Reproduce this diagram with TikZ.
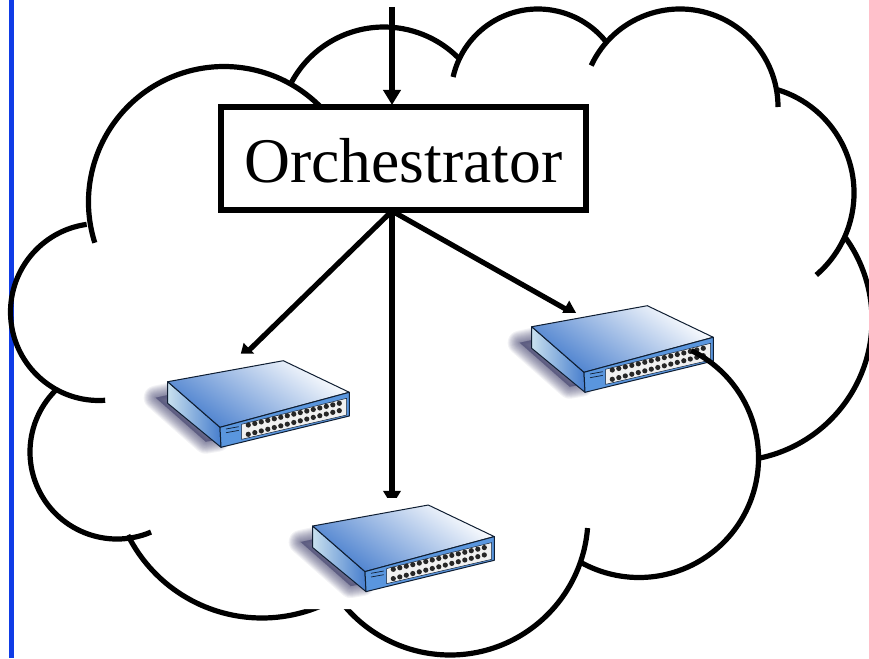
\documentclass[tikz,border=0pt]{standalone}
\usepackage{fontspec}
\setmainfont{Liberation Serif}
\usetikzlibrary{arrows.meta}

\definecolor{sidebar}{RGB}{15,60,230}
\definecolor{switchblue}{RGB}{70,125,205}
\definecolor{switchfront}{RGB}{90,150,222}
\definecolor{switchpale}{RGB}{200,224,238}
\definecolor{switchline}{RGB}{15,30,50}
\definecolor{switchshadow}{RGB}{60,60,105}

\tikzset{
  cloudline/.style={black, line width=5.2pt},
  feed/.style={black, line width=5.2pt, -{Triangle[length=15pt,width=17pt]}},
  orchbox/.style={draw=black, fill=white, line width=5.4pt, minimum width=365pt, minimum height=103pt, inner sep=0pt, text height=47pt, text depth=0pt, font=\fontsize{63.6pt}{70pt}\selectfont},
  switchspot/.style={inner sep=0pt, minimum size=0pt},
  switchbox/.pic={
    \fill[white] (-30,-13.7) -- (48,-13.7) -- (48,-28) -- (200,-28) -- (200,83) -- (-30,83) -- cycle;
    \foreach \w in {24,22,...,2}
      \draw[switchshadow, fill=switchshadow, opacity=0.065, line join=round, line width=\w pt] (-12,16) -- (2,13) -- (50,58) -- (38,60) -- cycle;
    \shade[draw=switchline, line width=1pt, line join=round, left color=switchpale, right color=switchblue] (0,0) -- (52.3,45.6) -- (53.3,65.6) -- (0,21.6) -- cycle;
    \shade[draw=switchline, line width=1pt, line join=round, left color=switchblue, right color=white, shading angle=145] (0,0) -- (115.6,-21) -- (181.6,10.6) -- (52.3,45.6) -- cycle;
    \fill[switchfront, draw=switchline, line width=1pt, line join=round] (52.3,45.6) -- (181.6,10.6) -- (181.6,34.3) -- (53.3,65.6) -- cycle;
    \draw[switchline, line width=0.5pt, fill=black!6] (74,42.6) -- (179,16.6) -- (179,33.3) -- (74,57.6) -- cycle;
    \draw[switchline, line width=0.7pt] (58.3,47.3) -- (71,45);
    \draw[switchline, line width=0.7pt] (58.3,51) -- (71,48.7);
    \foreach \i in {0,...,14} {
      \fill[black!85] ({80.6+6.5*\i},{43.3-1.55*\i}) circle (2.6);
      \fill[black!85] ({80.6+6.5*\i},{52.6-1.69*\i}) circle (2.6);
    }
  }
}

\newcommand{\cloudlobe}[5]{\draw[cloudline] ({#1+#3*cos(#4)},{#2+#3*sin(#4)}) arc[start angle=#4, end angle=#5, radius=#3];}

\begin{document}
\begin{tikzpicture}[x=1pt, y=-1pt]
  \useasboundingbox (0,0) rectangle (869,658);

  \fill[sidebar] (8.5,0) rectangle (14,658);

  % cloud, clockwise from the upper left
  \cloudlobe{224}{202}{135.5}{162.5}{320}
  \cloudlobe{384}{132}{105}{208.5}{315}
  \cloudlobe{538}{96}{87}{192.6}{322.5}
  \cloudlobe{680}{107}{98}{205}{360}
  \cloudlobe{746}{193}{108}{-73}{49.4}
  \cloudlobe{731}{320}{141}{-35.6}{78.2}
  \cloudlobe{450}{517}{138}{4.6}{145}
  \cloudlobe{262}{468}{150}{60}{153.4}
  \cloudlobe{117}{452}{87}{67}{226}
  \cloudlobe{99}{312}{88.5}{86}{262}

  \node[orchbox] (orch) at (403.5,158.5) {Orchestrator};
  \coordinate (entry) at (392,7);
  \coordinate (orchtop) at (392,105);
  \coordinate (orchbottom) at (392,211);
  \node[switchspot] (leftswitch) at (239,360) {};
  \node[switchspot] (midswitch) at (392,506) {};
  \node[switchspot] (rightswitch) at (578,316) {};

  \draw[feed] (entry) -- (orchtop);
  \draw[feed] (orchbottom) -- (leftswitch);
  \draw[feed] (orchbottom) -- (midswitch);
  \draw[feed] (orchbottom) -- (rightswitch);

  \pic at (167.7,381.7) {switchbox};
  \pic at (312.7,526) {switchbox};
  \pic at (531.7,326.7) {switchbox};

  \cloudlobe{639}{458}{119.5}{-64}{119.2}
\end{tikzpicture}
\end{document}
